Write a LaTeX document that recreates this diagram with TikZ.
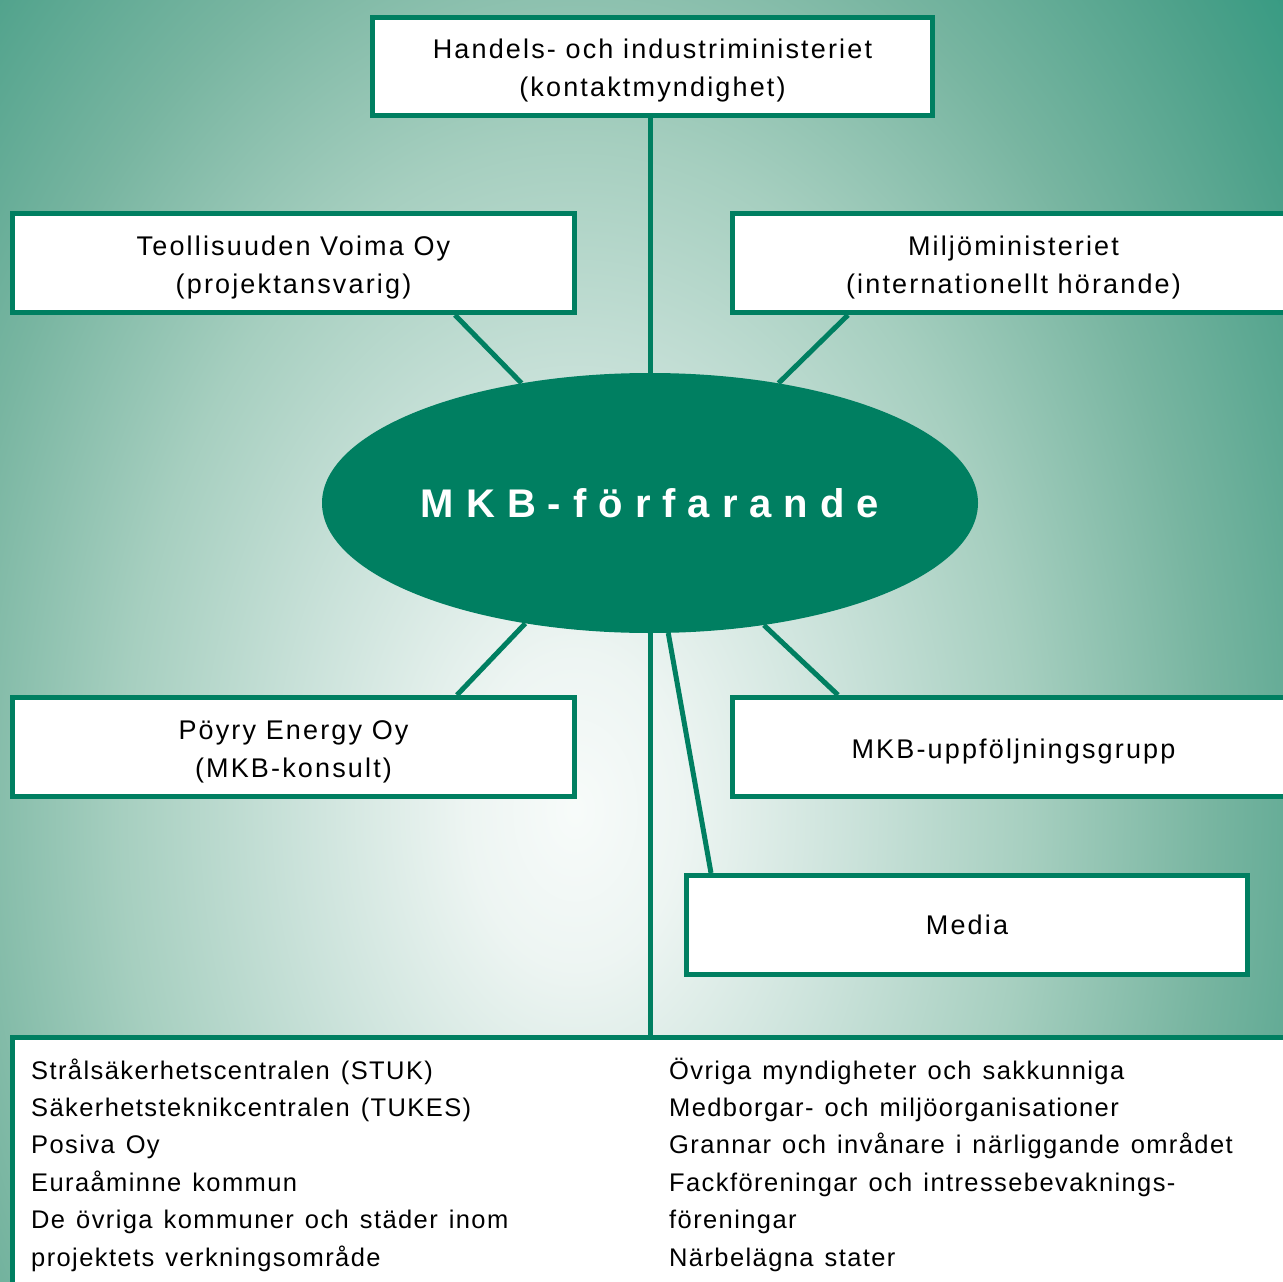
\documentclass[tikz,border=0pt]{standalone}
\usepackage{fontspec}
\setmainfont{Liberation Sans}
\newfontfamily\boxfont[LetterSpace=8]{Liberation Sans}
\newfontfamily\listfont[LetterSpace=5.5,WordSpace=1.3]{Liberation Sans}
\newfontfamily\titlefont[LetterSpace=30]{Liberation Sans}
\usetikzlibrary{shapes.geometric}
\definecolor{dkgreen}{RGB}{0,127,97}
\pgfdeclarelayer{bg}
\pgfsetlayers{bg,main}
\pgfdeclareradialshading{bgshade}{\pgfpoint{0bp}{0bp}}{%
rgb(0bp)=(0.97,0.985,0.98);
rgb(2.7bp)=(0.93,0.96,0.95);
rgb(6.8bp)=(0.80,0.89,0.86);
rgb(11.4bp)=(0.65,0.81,0.75);
rgb(15.9bp)=(0.47,0.71,0.63);
rgb(20.5bp)=(0.30,0.63,0.54);
rgb(25bp)=(0.12,0.58,0.48);
rgb(50bp)=(0.12,0.58,0.48)}
\newcommand{\lift}{\rule{0pt}{28pt}}
\tikzset{
  box/.style={rectangle, draw=dkgreen, line width=5, fill=white, inner sep=0,
    minimum width=562, minimum height=99, align=center, text=black,
    font=\boxfont\fontsize{27}{38}\selectfont},
  conn/.style={draw=dkgreen, line width=5},
  listtext/.style={inner sep=0, anchor=base west, align=left, text=black,
    font=\listfont\fontsize{25.5}{37.4}\selectfont},
}
\begin{document}
\begin{tikzpicture}[x=1pt,y=-1pt]
\useasboundingbox (0,0) rectangle (1283,1282);
\clip (0,0) rectangle (1283,1282);
\begin{pgfonlayer}{bg}
  \begin{scope}
    \clip (0,0) rectangle (1283,1282);
    \shade[shading=bgshade] (-425,-657) rectangle (1575,2277);
  \end{scope}
\end{pgfonlayer}

\node[box, minimum width=560, minimum height=98] (top) at (652.5,66.5)
  {\lift Handels- och industriministeriet\\(kontaktmyndighet)};
\node[box] (teo) at (293.5,263) {\lift Teollisuuden Voima Oy\\(projektansvarig)};
\node[box] (milj) at (1013.5,263) {\lift Miljöministeriet\\(internationellt hörande)};
\node[ellipse, fill=dkgreen, minimum width=656, minimum height=260, inner sep=0,
  text=white, font=\titlefont\bfseries\fontsize{40}{44}\selectfont] (ell) at (650,503)
  {MKB-förfarande};
\node[box] (poyry) at (293.5,747) {\lift Pöyry Energy Oy\\(MKB-konsult)};
\node[box] (uppf) at (1013.5,747) {\lift MKB-uppföljningsgrupp};
\node[box, minimum width=561] (media) at (967,925) {Media};
\node[rectangle, draw=dkgreen, line width=5, fill=white, inner sep=0,
  minimum width=1387.5, minimum height=362.5] (list) at (706.25,1218.75) {};
\node[listtext] (colL) at (31,1266) {Strålsäkerhetscentralen (STUK)\\
Säkerhetsteknikcentralen (TUKES)\\
Posiva Oy\\
Euraåminne kommun\\
De övriga kommuner och städer inom\\
projektets verkningsområde};
\node[listtext] (colR) at (669,1266) {Övriga myndigheter och sakkunniga\\
Medborgar- och miljöorganisationer\\
Grannar och invånare i närliggande området\\
Fackföreningar och intressebevaknings-\\
föreningar\\
Närbelägna stater};

\begin{pgfonlayer}{bg}
  \draw[conn] (ell.north |- top.south) -- (ell.north);
  \draw[conn] ([xshift=161.5]teo.south) -- (ell.137);
  \draw[conn] ([xshift=-165.5]milj.south) -- (ell.43);
  \draw[conn] ([xshift=163.5]poyry.north) -- (ell.224.5);
  \draw[conn] ([xshift=-175.5]uppf.north) -- (ell.313.8);
  \draw[conn] (ell.278.7) -- ([xshift=-256]media.north);
  \draw[conn] (ell.south) -- (ell.south |- list.north);
\end{pgfonlayer}
\end{tikzpicture}
\end{document}
